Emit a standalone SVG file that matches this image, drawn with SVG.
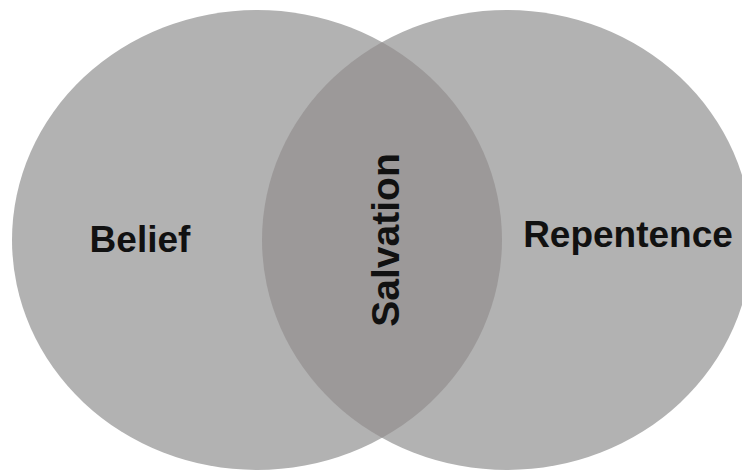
<svg xmlns="http://www.w3.org/2000/svg" width="742" height="472" viewBox="0 0 742 472">
  <defs>
    <style>
      .set { fill: #b2b2b2; }
      .lens { fill: #9c9999; }
      .lbl { font-family: "Liberation Sans", Arial, sans-serif; font-weight: bold; fill: #111111; text-anchor: middle; }
    </style>
    <clipPath id="clipLeft">
      <ellipse cx="257" cy="240" rx="245" ry="230"/>
    </clipPath>
  </defs>
  <rect width="742" height="472" fill="#ffffff"/>
  <g id="belief">
    <ellipse class="set" cx="257" cy="240" rx="245" ry="230"/>
  </g>
  <g id="repentence">
    <ellipse class="set" cx="507" cy="240" rx="245" ry="230"/>
  </g>
  <g id="salvation">
    <ellipse class="lens" cx="507" cy="240" rx="245" ry="230" clip-path="url(#clipLeft)"/>
  </g>
  <g id="connectors"/>
  <g id="labels">
    <text class="lbl" x="140" y="252" font-size="37">Belief</text>
    <text class="lbl" x="628" y="247" font-size="37">Repentence</text>
    <text class="lbl" font-size="39" transform="translate(399,240) rotate(-90)">Salvation</text>
  </g>
</svg>
